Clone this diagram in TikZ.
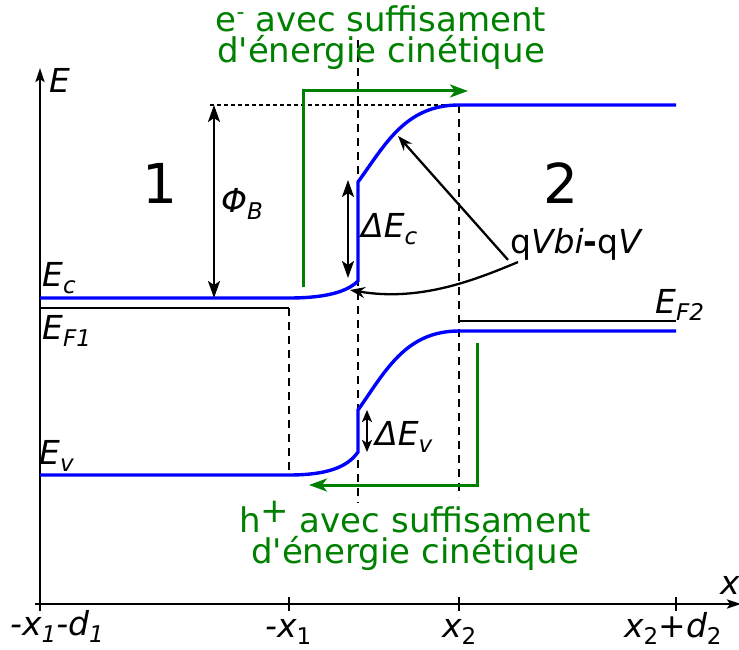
\documentclass[tikz,border=0pt]{standalone}
\usepackage{fontspec}
\setmainfont{DejaVu Sans}
\newfontfamily\plainfont{DejaVu Sans}
\usetikzlibrary{arrows.meta}
\definecolor{dgreen}{RGB}{0,128,0}
\definecolor{bblue}{RGB}{0,0,255}
\newcommand\lsub[1]{\raisebox{-7pt}{\fontsize{23}{23}\selectfont #1}}
\begin{document}
\begin{tikzpicture}[x=1pt,y=-1pt,
  band/.style={bblue,line width=3.4pt},
  vdashed/.style={black,line width=2pt,dash pattern=on 8pt off 6pt},
  thindash/.style={black,line width=1.1pt,dash pattern=on 4pt off 3pt},
  axis/.style={black,line width=2.5pt},
  fermi/.style={black,line width=1.6pt},
  dimarrow/.style={black,line width=2.3pt,{Stealth[length=17pt,width=12pt,inset=4pt]}-{Stealth[length=17pt,width=12pt,inset=4pt]}},
  smallarrow/.style={black,line width=2.3pt,{Stealth[length=12pt,width=10pt,inset=3pt]}-{Stealth[length=12pt,width=10pt,inset=3pt]}},
  garrow/.style={dgreen,line width=3pt,-{Stealth[length=18pt,width=13pt,inset=5pt]}},
  qarrow/.style={black,line width=2.3pt,-{Stealth[length=15pt,width=11pt,inset=5pt]}},
  lbl/.style={font=\fontsize{33}{33}\selectfont\itshape,inner sep=0pt},
  big/.style={font=\fontsize{55}{55}\selectfont,inner sep=0pt},
  gtext/.style={dgreen,font=\plainfont\fontsize{34}{34}\selectfont,inner sep=0pt}
]
\useasboundingbox (0,0) rectangle (739,650);

% axes
\coordinate (O) at (40,604);
\coordinate (Etop) at (40,68);
\coordinate (Xs) at (35,604);
\coordinate (Xe) at (741,604);
\draw[axis,-{Stealth[length=14pt,width=9pt,inset=3pt]}] (O) -- (Etop);
\draw[axis,-{Stealth[length=14pt,width=9pt,inset=3pt]}] (Xs) -- (Xe);
\coordinate (t1) at (40,604);
\coordinate (t2) at (289,604);
\coordinate (t3) at (459,604);
\coordinate (t4) at (676,604);
\foreach \t in {t1,t2,t3,t4}
  \draw[axis,line width=2pt] ([yshift=7pt]\t) -- ([yshift=-7pt]\t);

% dashed guides
\coordinate (d1a) at (289,308);
\coordinate (d1b) at (289,475);
\coordinate (d2a) at (358,40);
\coordinate (d2b) at (358,503);
\coordinate (d3a) at (459,105);
\coordinate (d3b) at (459,497);
\coordinate (h1) at (210,105);
\draw[vdashed] (d1a) -- (d1b);
\draw[vdashed] (d2a) -- (d2b);
\draw[vdashed] (d3a) -- (d3b);
\draw[thindash] (h1) -- (d3a);

% Fermi levels
\coordinate (F1a) at (40,308);
\coordinate (F2a) at (459,321);
\coordinate (F2b) at (676,321);
\draw[fermi] (F1a) -- (d1a);
\draw[fermi] (F2a) -- (F2b);

% conduction band
\coordinate (EcL) at (40,298);
\coordinate (EcA) at (289,298);
\coordinate (EcB) at (358,281);
\coordinate (EcC) at (358,182);
\coordinate (EcD) at (459,105);
\coordinate (EcR) at (676,105);
\draw[band] (EcL) -- (EcA) .. controls (325,298) and (347,292) .. (EcB) -- (EcC)
  .. controls (385,145) and (405,105) .. (EcD) -- (EcR);

% valence band
\coordinate (EvL) at (40,475);
\coordinate (EvA) at (289,475);
\coordinate (EvB) at (358,452);
\coordinate (EvC) at (358,410);
\coordinate (EvD) at (459,331);
\coordinate (EvR) at (676,331);
\draw[band] (EvL) -- (EvA) .. controls (325,475) and (347,468) .. (EvB) -- (EvC)
  .. controls (385,372) and (405,331) .. (EvD) -- (EvR);

% dimension arrows
\coordinate (phiT) at (214,105);
\coordinate (phiB) at (214,298);
\draw[dimarrow] (phiT) -- (phiB);
\coordinate (dcT) at (348,180);
\coordinate (dcB) at (348,278);
\draw[dimarrow] (dcT) -- (dcB);
\coordinate (dvT) at (367,410);
\coordinate (dvB) at (367,452);
\draw[smallarrow] (dvT) -- (dvB);

% green paths
\coordinate (ge1) at (303,287);
\coordinate (ge2) at (303,91);
\coordinate (ge3) at (468,91);
\draw[garrow] (ge1) -- (ge2) -- (ge3);
\coordinate (gh1) at (477,343);
\coordinate (gh2) at (477,485);
\coordinate (gh3) at (309,485);
\draw[garrow] (gh1) -- (gh2) -- (gh3);

% labels
\node[lbl,anchor=base west] (lE) at (49,93) {E};
\node[lbl,anchor=base west] (lx) at (720,594) {x};
\node[lbl,anchor=base west] (lEc) at (42,286) {E\lsub{c}};
\node[lbl,anchor=base west] (lEF1) at (42,339) {E\lsub{F1}};
\node[lbl,anchor=base west] (lEv) at (39,464) {E\lsub{v}};
\node[lbl,anchor=base west] (lEF2) at (655,313) {E\lsub{F2}};
\node[lbl,anchor=base west] (lphi) at (221,212) {Φ\lsub{B}};
\node[lbl,anchor=base west] (ldEc) at (361,237) {ΔE\lsub{c}};
\node[lbl,anchor=base west] (ldEv) at (375,445) {ΔE\lsub{v}};
\node[big,anchor=base] (one) at (160,203) {1};
\node[big,anchor=base] (two) at (561,203) {2};
\node[font=\fontsize{33}{33}\selectfont,inner sep=0pt,anchor=base west] (qv) at (510,253)
  {q\textit{Vbi}\textbf{-}q\textit{V}};

% qV arrows
\coordinate (qtipA) at (398,136);
\coordinate (qtipB) at (350,290);
\draw[qarrow] ([xshift=-2pt,yshift=-16pt]qv.west) -- (qtipA);
\draw[qarrow] ([xshift=8pt,yshift=-2pt]qv.south west) .. controls (475,280) and (420,302) .. (qtipB);

% tick labels
\node[lbl,anchor=base west] (k1) at (10,635) {-x\lsub{1}-d\lsub{1}};
\node[lbl,anchor=base west] (k2) at (265,637) {-x\lsub{\upshape 1}};
\node[lbl,anchor=base west] (k3) at (442,637) {x\lsub{\upshape 2}};
\node[lbl,anchor=base west] (k4) at (624,637) {x\lsub{\upshape 2}{\upshape +}d\lsub{\upshape 2}};

% green texts
\node[gtext,anchor=base] (gt1) at (381,32) {e\raisebox{12pt}{\fontsize{22}{22}\selectfont -} avec suffisament};
\node[gtext,anchor=base] (gt2) at (381,63) {d'énergie cinétique};
\node[gtext,anchor=base] (gb1) at (415,532) {h\raisebox{10pt}{+} avec suffisament};
\node[gtext,anchor=base] (gb2) at (415,563) {d'énergie cinétique};
\end{tikzpicture}
\end{document}
